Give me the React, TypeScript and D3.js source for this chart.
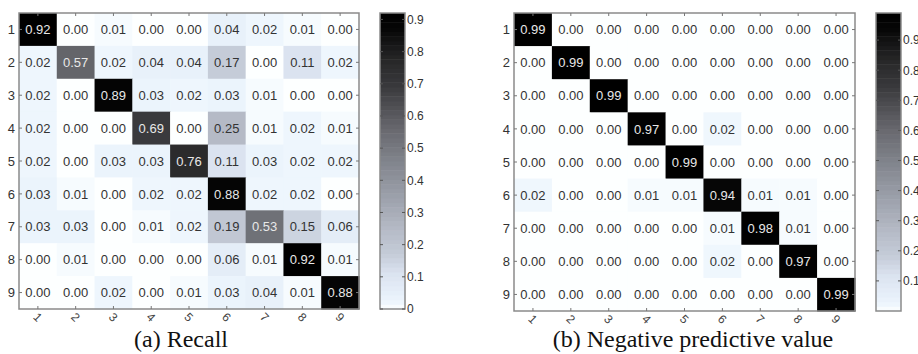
import React from "react"
import * as d3 from "d3"

const CLASSES = ["1", "2", "3", "4", "5", "6", "7", "8", "9"]

const RECALL = [
	[0.92, 0.0, 0.01, 0.0, 0.0, 0.04, 0.02, 0.01, 0.0],
	[0.02, 0.57, 0.02, 0.04, 0.04, 0.17, 0.0, 0.11, 0.02],
	[0.02, 0.0, 0.89, 0.03, 0.02, 0.03, 0.01, 0.0, 0.0],
	[0.02, 0.0, 0.0, 0.69, 0.0, 0.25, 0.01, 0.02, 0.01],
	[0.02, 0.0, 0.03, 0.03, 0.76, 0.11, 0.03, 0.02, 0.02],
	[0.03, 0.01, 0.0, 0.02, 0.02, 0.88, 0.02, 0.02, 0.0],
	[0.03, 0.03, 0.0, 0.01, 0.02, 0.19, 0.53, 0.15, 0.06],
	[0.0, 0.01, 0.0, 0.0, 0.0, 0.06, 0.01, 0.92, 0.01],
	[0.0, 0.0, 0.02, 0.0, 0.01, 0.03, 0.04, 0.01, 0.88],
]

const NPV = [
	[0.99, 0.0, 0.0, 0.0, 0.0, 0.0, 0.0, 0.0, 0.0],
	[0.0, 0.99, 0.0, 0.0, 0.0, 0.0, 0.0, 0.0, 0.0],
	[0.0, 0.0, 0.99, 0.0, 0.0, 0.0, 0.0, 0.0, 0.0],
	[0.0, 0.0, 0.0, 0.97, 0.0, 0.02, 0.0, 0.0, 0.0],
	[0.0, 0.0, 0.0, 0.0, 0.99, 0.0, 0.0, 0.0, 0.0],
	[0.02, 0.0, 0.0, 0.01, 0.01, 0.94, 0.01, 0.01, 0.0],
	[0.0, 0.0, 0.0, 0.0, 0.0, 0.01, 0.98, 0.01, 0.0],
	[0.0, 0.0, 0.0, 0.0, 0.0, 0.02, 0.0, 0.97, 0.0],
	[0.0, 0.0, 0.0, 0.0, 0.0, 0.0, 0.0, 0.0, 0.99],
]

const RECALL_MAX = 0.92
const NPV_MAX = 0.99
const RECALL_TICKS = [0, 0.1, 0.2, 0.3, 0.4, 0.5, 0.6, 0.7, 0.8, 0.9]
const NPV_TICKS = [0.1, 0.2, 0.3, 0.4, 0.5, 0.6, 0.7, 0.8, 0.9]

// reversed bone-ish map, keyed on value / max
const stopT = [0, 0.022, 0.045, 0.12, 0.185, 0.27, 0.45, 0.6, 0.75, 0.83, 0.95, 1]
const stopC = ["#fdffff", "#eef6fd", "#e8f1fa", "#dbe3f0", "#c5ccd8", "#b5bac6", "#8c9099", "#6a6b71", "#3a3a3d", "#2a2a2b", "#060606", "#000000"]
const tone = d3.scaleLinear<string>().domain(stopT).range(stopC).interpolate(d3.interpolateRgb).clamp(true)

const SANS = "Liberation Sans, Arial, Helvetica, sans-serif"
const SERIF = "Liberation Serif, Times New Roman, serif"
const TICK = 3

type PanelProps = {
	data: number[][]
	vmax: number
	ticks: number[]
	caption: string
	box: { x0: number; x1: number; y0: number; y1: number }
	bar: { x0: number; x1: number; y0: number; y1: number }
	captionX: number
}

const Panel = ({ data, vmax, ticks, caption, box, bar, captionX }: PanelProps) => {
	const x = d3.scaleBand().domain(CLASSES).range([box.x0, box.x1])
	const y = d3.scaleBand().domain(CLASSES).range([box.y0, box.y1])
	const cbY = d3.scaleLinear().domain([0, vmax]).range([bar.y1, bar.y0])
	const steps = d3.range(64)
	const stepH = (bar.y1 - bar.y0) / steps.length

	return (
		<g>
			{data.map((row, i) =>
				row.map((v, j) => {
					const t = v / vmax
					return (
						<g key={`${i}-${j}`}>
							<rect x={x(CLASSES[j])} y={y(CLASSES[i])} width={x.bandwidth() + 0.5} height={y.bandwidth() + 0.5} fill={tone(t)} />
							<text
								x={(x(CLASSES[j]) as number) + x.bandwidth() / 2}
								y={(y(CLASSES[i]) as number) + y.bandwidth() / 2}
								dy="0.36em"
								textAnchor="middle"
								fontFamily={SANS}
								fontSize={13}
								fill={t > 0.5 ? "#e8e8e8" : "#333"}
							>
								{v.toFixed(2)}
							</text>
						</g>
					)
				}),
			)}
			<rect x={box.x0} y={box.y0} width={box.x1 - box.x0} height={box.y1 - box.y0} fill="none" stroke="#8a8a8a" strokeWidth={1.5} />
			{CLASSES.map((c) => {
				const cx = (x(c) as number) + x.bandwidth() / 2
				const cy = (y(c) as number) + y.bandwidth() / 2
				return (
					<g key={c} stroke="#777" strokeWidth={1}>
						<line x1={cx} x2={cx} y1={box.y0} y2={box.y0 + TICK} />
						<line x1={cx} x2={cx} y1={box.y1} y2={box.y1 - TICK} />
						<line x1={box.x0} x2={box.x0 + TICK} y1={cy} y2={cy} />
						<line x1={box.x1} x2={box.x1 - TICK} y1={cy} y2={cy} />
					</g>
				)
			})}
			{CLASSES.map((c) => (
				<text key={`yl${c}`} x={box.x0 - 4} y={(y(c) as number) + y.bandwidth() / 2} dy="0.36em" textAnchor="end" fontFamily={SANS} fontSize={13} fill="#333">
					{c}
				</text>
			))}
			{CLASSES.map((c) => {
				const cx = (x(c) as number) + x.bandwidth() / 2
				const ly = box.y1 + 8
				return (
					<text key={`xl${c}`} x={cx} y={ly} dy="0.36em" textAnchor="middle" fontFamily={SANS} fontSize={12} fill="#444" transform={`rotate(45, ${cx}, ${ly})`}>
						{c}
					</text>
				)
			})}
			{steps.map((s) => (
				<rect key={`cb${s}`} x={bar.x0} y={bar.y1 - (s + 1) * stepH} width={bar.x1 - bar.x0} height={stepH + 0.5} fill={tone((s + 0.5) / steps.length)} />
			))}
			<rect x={bar.x0} y={bar.y0} width={bar.x1 - bar.x0} height={bar.y1 - bar.y0} fill="none" stroke="#8a8a8a" strokeWidth={1.5} />
			{ticks.map((tk) => (
				<g key={`ct${tk}`}>
					<line x1={bar.x0} x2={bar.x0 + TICK} y1={cbY(tk)} y2={cbY(tk)} stroke="#555" />
					<line x1={bar.x1} x2={bar.x1 - TICK} y1={cbY(tk)} y2={cbY(tk)} stroke="#555" />
					<text x={bar.x1 + 2} y={cbY(tk)} dy="0.36em" fontFamily={SANS} fontSize={12} fill="#333">
						{d3.format("~g")(tk)}
					</text>
				</g>
			))}
			<text x={captionX} y={347} textAnchor="middle" fontFamily={SERIF} fontSize={24} fill="#111">
				{caption}
			</text>
		</g>
	)
}

const App = () => {
	return (
		<div style={{ position: "absolute", left: 0, top: 0 }}>
			<svg width={918} height={354} style={{ display: "block", background: "#fff" }}>
				<Panel
					data={RECALL}
					vmax={RECALL_MAX}
					ticks={RECALL_TICKS}
					caption="(a) Recall"
					box={{ x0: 19, x1: 359, y0: 13, y1: 309 }}
					bar={{ x0: 380, x1: 405, y0: 13, y1: 309 }}
					captionX={181}
				/>
				<Panel
					data={NPV}
					vmax={NPV_MAX}
					ticks={NPV_TICKS}
					caption="(b) Negative predictive value"
					box={{ x0: 514, x1: 855, y0: 13, y1: 311 }}
					bar={{ x0: 876, x1: 901, y0: 13, y1: 311 }}
					captionX={693}
				/>
			</svg>
		</div>
	)
}

export default App
